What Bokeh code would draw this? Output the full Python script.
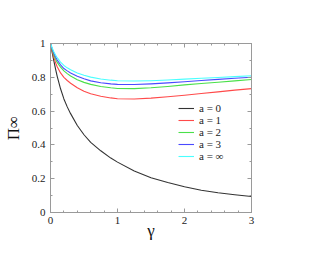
from bokeh.plotting import figure
from bokeh.models import (Range1d, LinearAxis, SingleIntervalTicker, CustomJSTickFormatter,
                          Legend, LegendItem)
from bokeh.embed import file_html
from bokeh.resources import INLINE

# data
gamma = [0.0, 0.025, 0.05, 0.075, 0.1, 0.15, 0.2, 0.25, 0.3, 0.4, 0.5, 0.6, 0.75, 0.9, 1.0,
         1.25, 1.5, 1.75, 2.0, 2.25, 2.5, 2.75, 3.0]
pi_a0 = [1.0, 0.946, 0.897, 0.850, 0.806, 0.732, 0.672, 0.625, 0.585, 0.515, 0.46, 0.415,
         0.365, 0.322, 0.298, 0.245, 0.206, 0.177, 0.152, 0.132, 0.117, 0.105, 0.095]
pi_a1 = [1.0, 0.955, 0.918, 0.887, 0.862, 0.826, 0.80, 0.781, 0.765, 0.738, 0.718, 0.703,
         0.688, 0.678, 0.673, 0.672, 0.677, 0.685, 0.694, 0.704, 0.714, 0.724, 0.733]
pi_a2 = [1.0, 0.963, 0.932, 0.907, 0.888, 0.860, 0.838, 0.822, 0.808, 0.786, 0.770, 0.758,
         0.746, 0.738, 0.734, 0.733, 0.738, 0.746, 0.755, 0.763, 0.771, 0.779, 0.787]
pi_a3 = [1.0, 0.968, 0.942, 0.920, 0.902, 0.874, 0.852, 0.838, 0.826, 0.806, 0.791, 0.779,
         0.768, 0.761, 0.758, 0.757, 0.761, 0.767, 0.774, 0.781, 0.788, 0.794, 0.800]
pi_ainf = [1.0, 0.973, 0.951, 0.932, 0.916, 0.890, 0.870, 0.856, 0.845, 0.826, 0.812, 0.801,
           0.790, 0.783, 0.780, 0.778, 0.780, 0.784, 0.789, 0.794, 0.799, 0.804, 0.809]
series_labels = ["a = 0", "a = 1", "a = 2", "a = 3", "a = \u221e"]
x_ticks_major = 1
y_ticks_major = 0.2

colors = ["#333333", "#ff4a4a", "#4ae04a", "#4a4aff", "#4affff"]
serif = "Liberation Serif"
grey = "#9a9a9a"

p = figure(width=321, height=247, output_backend="svg", toolbar_location=None,
           x_range=Range1d(0, 3), y_range=Range1d(0, 1),
           min_border_left=50, min_border_right=70, min_border_top=43, min_border_bottom=35,
           x_axis_label="\u03b3", y_axis_label="\u03a0\u221e")
p.grid.visible = False
p.outline_line_color = grey
p.background_fill_color = "white"
p.border_fill_color = "white"

fmt = CustomJSTickFormatter(code="return (Math.abs(tick - Math.round(tick)) < 1e-9) ? tick.toFixed(0) : tick.toFixed(1);")

xt = SingleIntervalTicker(interval=x_ticks_major, num_minor_ticks=5)
yt = SingleIntervalTicker(interval=y_ticks_major, num_minor_ticks=2)

def style(ax, labels=True):
    ax.axis_line_color = grey
    ax.major_tick_line_color = grey
    ax.minor_tick_line_color = grey
    ax.major_tick_in = 4
    ax.major_tick_out = 0
    ax.minor_tick_in = 2
    ax.minor_tick_out = 0
    ax.major_label_text_font = serif
    ax.major_label_text_font_size = "11px"
    ax.major_label_text_color = "#222222" if labels else None
    ax.axis_label_text_font = serif
    ax.axis_label_text_font_style = "normal"
    ax.axis_label_text_color = "#111111"

p.xaxis[0].ticker = xt
p.yaxis[0].ticker = yt
p.xaxis[0].formatter = fmt
p.yaxis[0].formatter = fmt
for ax in p.xaxis + p.yaxis:
    style(ax)
p.xaxis[0].major_label_standoff = 4
p.yaxis[0].major_label_standoff = 5
p.xaxis[0].axis_label_text_font_size = "17px"
p.yaxis[0].axis_label_text_font_size = "17px"
p.xaxis[0].axis_label_standoff = -6
p.yaxis[0].axis_label_standoff = 6

top = LinearAxis(ticker=SingleIntervalTicker(interval=x_ticks_major, num_minor_ticks=5))
right = LinearAxis(ticker=SingleIntervalTicker(interval=y_ticks_major, num_minor_ticks=2))
style(top, labels=False)
style(right, labels=False)
top.major_label_text_font_size = "0px"
right.major_label_text_font_size = "0px"
p.add_layout(top, "above")
p.add_layout(right, "right")

items = []
for ys, c, lab in zip([pi_a0, pi_a1, pi_a2, pi_a3, pi_ainf], colors, series_labels):
    r = p.line(gamma, ys, line_color=c, line_width=1.1, line_join="round")
    items.append(LegendItem(label=lab, renderers=[r]))

leg = Legend(items=items, location=(128, 50), orientation="vertical")
leg.background_fill_alpha = 0
leg.border_line_color = None
leg.padding = 0
leg.margin = 0
leg.spacing = 0
leg.glyph_width = 16
leg.glyph_height = 12
leg.label_height = 12
leg.label_standoff = 5
leg.label_text_font = serif
leg.label_text_font_size = "11px"
leg.label_text_color = "#222222"
p.add_layout(leg)

open("out.html", "w").write(file_html(p, INLINE))
